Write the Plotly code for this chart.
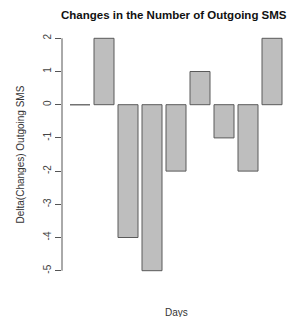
import plotly.graph_objects as go

days = ["1", "2", "3", "4", "5", "6", "7", "8", "9"]
changes = [0, 2, -4, -5, -2, 1, -1, -2, 2]
y_ticks = [-5, -4, -3, -2, -1, 0, 1, 2]

title_text = "Changes in the Number of Outgoing SMS"
x_title = "Days"
y_title = "Delta(Changes) Outgoing SMS"

# R barplot style positions: width 1, space 0.2
xpos = [0.7 + 1.2 * i for i in range(len(changes))]

fig = go.Figure()
fig.add_trace(go.Bar(
    x=xpos, y=changes, width=1.0,
    marker=dict(color="#bebebe", line=dict(color="#5a5a5a", width=1)),
    hoverinfo="skip", showlegend=False,
))

# zero-height bars render as a flat line in R
zx, zy = [], []
for xp, v in zip(xpos, changes):
    if v == 0:
        zx += [xp - 0.5, xp + 0.5, None]
        zy += [0, 0, None]
if zx:
    fig.add_trace(go.Scatter(x=zx, y=zy, mode="lines",
                             line=dict(color="#777777", width=1),
                             hoverinfo="skip", showlegend=False))

# y axis line spanning only the tick range (R style)
fig.add_shape(type="line", xref="paper", yref="y", x0=0, x1=0,
              y0=min(y_ticks), y1=max(y_ticks),
              line=dict(color="#555555", width=1))

fig.update_xaxes(range=[-0.2, 11.2], visible=False)
fig.update_yaxes(range=[-5.28, 2.28], tickvals=y_ticks,
                 ticktext=[str(t) for t in y_ticks],
                 ticks="outside", ticklen=6, tickcolor="#555555",
                 tickangle=-90, showgrid=False, zeroline=False,
                 showline=False,
                 tickfont=dict(family="Liberation Sans", size=10, color="#444444"))

fig.add_annotation(text="<b>" + title_text + "</b>", xref="paper", yref="paper",
                   x=0.5, y=1, yshift=14, xshift=-2, xanchor="center", yanchor="middle",
                   showarrow=False, font=dict(family="Liberation Sans", size=11.5, color="#111111"))
fig.add_annotation(text=x_title, xref="paper", yref="paper",
                   x=0.5, y=0, yshift=-32, xanchor="center", yanchor="middle",
                   showarrow=False, font=dict(family="Liberation Sans", size=10, color="#333333"))
fig.add_annotation(text=y_title, xref="paper", yref="paper",
                   x=0, y=0.5, xshift=-42, textangle=-90, xanchor="center", yanchor="middle",
                   showarrow=False, font=dict(family="Liberation Sans", size=10, color="#333333"))

fig.update_layout(width=292, height=317,
                  margin=dict(l=62, r=2, t=29, b=37),
                  paper_bgcolor="white", plot_bgcolor="white")

fig.write_html("out.html", config={"displayModeBar": False},
               post_script="document.body.style.margin='0';document.body.style.padding='0';document.body.style.overflow='hidden';")
